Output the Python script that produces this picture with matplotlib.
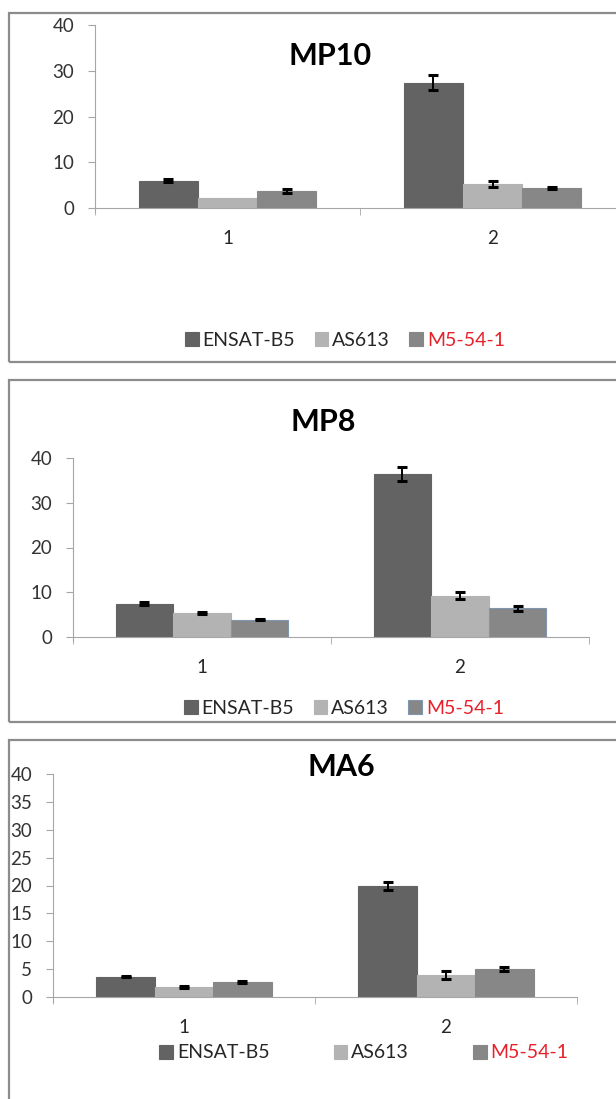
import numpy as np
import matplotlib
matplotlib.use("Agg")
import matplotlib.pyplot as plt
from matplotlib.patches import Rectangle

plt.rcParams['font.family'] = ['Lato', 'DejaVu Sans']

# --- data ---
groups = ["1", "2"]
series = ["ENSAT-B5", "AS613", "M5-54-1"]

mp10_vals = [[6.0, 27.4], [2.2, 5.3], [3.8, 4.45]]
mp10_err = [[0.3, 1.65], [0.0, 0.7], [0.45, 0.2]]

mp8_vals = [[7.45, 36.4], [5.3, 9.2], [3.9, 6.4]]
mp8_err = [[0.3, 1.5], [0.2, 0.8], [0.2, 0.6]]

ma6_vals = [[3.65, 19.95], [1.75, 3.95], [2.75, 5.1]]
ma6_err = [[0.15, 0.7], [0.15, 0.75], [0.2, 0.35]]

titles = ["MP10", "MP8", "MA6"]

colors = ["#636363", "#b3b3b3", "#878787"]
W, H = 616, 1099

fig = plt.figure(figsize=(W / 100, H / 100), dpi=100)

def px_axes(x0, x1, ytop, ybot):
    return fig.add_axes([x0 / W, 1 - ybot / H, (x1 - x0) / W, (ybot - ytop) / H])

def frame(y0, y1):
    fig.patches.append(Rectangle((9 / W, 1 - y1 / H), 1.2, (y1 - y0) / H,
                                 transform=fig.transFigure, fill=False,
                                 edgecolor="#8c8c8c", lw=1.6))

def panel(ax, vals, errs, title, yticks, title_xy, leg_xy, colspace, m5_edge):
    bw = 0.223
    x = np.arange(len(groups)) + 0.5
    for i, name in enumerate(series):
        ec = m5_edge if i == 2 else colors[i]
        ax.bar(x + (i - 1) * bw, vals[i], bw, color=colors[i], edgecolor=ec,
               lw=0.8, label=name, zorder=2)
        e = np.array(errs[i])
        keep = e > 0
        ax.errorbar((x + (i - 1) * bw)[keep], np.array(vals[i])[keep],
                    yerr=e[keep], fmt="none", ecolor="black", elinewidth=1.4,
                    capsize=3.6, capthick=2.2, zorder=3)
    ax.set_xlim(0, 2)
    ax.set_ylim(0, 40)
    ax.set_yticks(yticks)
    ax.set_xticks(x)
    ax.set_xticklabels(groups)
    ax.set_xticks([0, 1, 2], minor=True)
    ax.tick_params(axis="x", which="major", length=0, pad=16, labelsize=13.5,
                   labelcolor="#262626")
    ax.tick_params(axis="x", which="minor", length=5, color="#a6a6a6")
    ax.tick_params(axis="y", length=5, pad=10, color="#a6a6a6",
                   labelsize=13.5, labelcolor="#333333")
    for s in ["top", "right"]:
        ax.spines[s].set_visible(False)
    for s in ["left", "bottom"]:
        ax.spines[s].set_color("#a6a6a6")
    ax.spines["left"].set_bounds(-0.9, 40)
    fig.text(title_xy[0] / W, 1 - title_xy[1] / H, title, ha="center",
             va="center", fontsize=22, fontweight="bold")
    leg = ax.legend(loc="center", bbox_to_anchor=(leg_xy[0] / W, 1 - leg_xy[1] / H),
                    bbox_transform=fig.transFigure, ncol=3, frameon=False,
                    handlelength=0.7, handleheight=0.7, handletextpad=0.2,
                    columnspacing=colspace, fontsize=14)
    for t in leg.get_texts():
        t.set_color("#262626")
    leg.get_texts()[2].set_color("#e8202a")

frame(13, 362)
frame(380, 722)
frame(740, 1110)

ax1 = px_axes(95, 625, 25, 208)
panel(ax1, mp10_vals, mp10_err, titles[0], [0, 10, 20, 30, 40],
      (330, 56), (345, 340), 1.0, colors[2])

ax2 = px_axes(73, 589, 458, 637)
panel(ax2, mp8_vals, mp8_err, titles[1], [0, 10, 20, 30, 40],
      (323, 422), (344, 708), 1.0, "#7f95b0")

ax3 = px_axes(53, 577, 774, 997)
panel(ax3, ma6_vals, ma6_err, titles[2], np.arange(0, 41, 5),
      (341, 767), (364, 1053), 3.3, colors[2])

fig.savefig("out.png", dpi=100)
